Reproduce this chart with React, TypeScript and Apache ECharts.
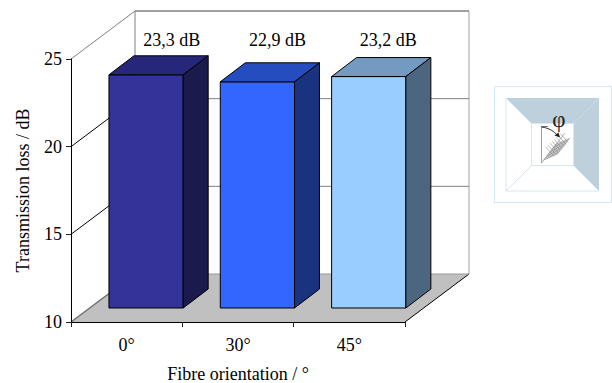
import React, { useEffect, useRef } from "react";
import * as echarts from "echarts";

const categories = ["0°", "30°", "45°"];
const lossValues = [23.3, 22.9, 23.2];
const gridValues = [15, 20, 25];
const frontColors = ["#333399", "#3366ff", "#99ccff"];
const topColors = ["#26267a", "#264dbf", "#739ac0"];
const sideColors = ["#1a1a4d", "#1a3380", "#4d6680"];

const SERIF = '"Liberation Serif", "Times New Roman", serif';

// Oblique projection of the box the bars stand in.
const WALL_DX = 64;
const WALL_DY = 48;
// Position of each bar inside the box, and the depth of the bars themselves.
const BAR_SHIFT_X = 19.4;
const BAR_SHIFT_Y = 14;
const BAR_DX = 25;
const BAR_DY = 19;
const LABEL_SHIFT = [45, 39.5, 39];

const seg = (x1: number, y1: number, x2: number, y2: number, stroke: string, lineWidth = 1) => ({
  type: "line",
  shape: { x1, y1, x2, y2 },
  style: { stroke, lineWidth },
});

const poly = (points: number[][], fill: string, stroke = "none", lineWidth = 1) => ({
  type: "polygon",
  shape: { points },
  style: { fill, stroke, lineWidth },
});

// Floor, back wall and the grid lines running round the two walls.
function renderFrame(params: any, api: any) {
  const { x, y, width, height } = params.coordSys;
  const bottom = y + height;
  const right = x + width;
  const children: any[] = [
    poly(
      [
        [x, bottom],
        [right, bottom],
        [right + WALL_DX, bottom - WALL_DY],
        [x + WALL_DX, bottom - WALL_DY],
      ],
      "#c0c0c0",
    ),
    seg(x + WALL_DX, y - WALL_DY, x + WALL_DX, bottom - WALL_DY, "#808080"),
    seg(right + WALL_DX, y - WALL_DY, right + WALL_DX, bottom - WALL_DY, "#c0c0c0", 1.5),
    seg(x, bottom, x + WALL_DX, bottom - WALL_DY, "#666666", 1.2),
    seg(right, bottom, right + WALL_DX, bottom - WALL_DY, "#000000"),
    seg(x + WALL_DX, bottom - WALL_DY, right + WALL_DX, bottom - WALL_DY, "#999999"),
  ];
  gridValues.forEach((v) => {
    const gy = api.coord([0, v])[1];
    const isTop = v === gridValues[gridValues.length - 1];
    children.push(seg(x, gy, x + WALL_DX, gy - WALL_DY, isTop ? "#808080" : "#000000"));
    children.push(seg(x + WALL_DX, gy - WALL_DY, right + WALL_DX, gy - WALL_DY, "#808080", isTop ? 1.5 : 1));
  });
  return { type: "group", children };
}

// One block per category: front, top and side faces plus the value caption.
function renderBar(params: any, api: any) {
  const i = params.dataIndex;
  const value = api.value(1);
  const [cx, topY] = api.coord([i, value]);
  const baseY = api.coord([i, 10])[1];
  const w = (api.size([1, 0])[0] * 2) / 3;
  const l = cx + BAR_SHIFT_X - w / 2;
  const r = l + w;
  const t = topY - BAR_SHIFT_Y;
  const b = baseY - BAR_SHIFT_Y;
  const edge = "#000000";
  return {
    type: "group",
    children: [
      poly([[l, t], [r, t], [r, b], [l, b]], frontColors[i], edge),
      poly([[l, t], [l + BAR_DX, t - BAR_DY], [r + BAR_DX, t - BAR_DY], [r, t]], topColors[i], edge),
      poly([[r, t], [r + BAR_DX, t - BAR_DY], [r + BAR_DX, b - BAR_DY], [r, b]], sideColors[i], edge),
      {
        type: "text",
        x: cx + LABEL_SHIFT[i],
        y: params.coordSys.y - 19,
        style: {
          text: `${String(value).replace(".", ",")} dB`,
          fontFamily: SERIF,
          fontSize: 18,
          fill: "#000000",
          align: "center",
          verticalAlign: "middle",
        },
      },
    ],
  };
}

// Small sketch of the chamber with the fibre mat seen from the front.
function insetElements() {
  const line = "#d3e8f4";
  const shade = "#bdd0dc";
  const hatch: any[] = [];
  // Strands along the mat's long side, then the ones crossing them.
  for (let k = 0; k < 8; k++) {
    const ox = 543.5 + k * 1.9;
    const oy = 160.5 + k * 0.1 - k * 0.9;
    hatch.push(seg(ox, oy, ox + 13, oy - 17, "#777777", 0.7));
  }
  for (let k = 0; k < 8; k++) {
    const ox = 546 + k * 2.1;
    const oy = 147 - k * 1.9;
    hatch.push(seg(ox, oy, ox + 7.5, oy + 9, "#8c8c8c", 0.6));
  }
  return [
    { type: "rect", shape: { x: 494.5, y: 86.5, width: 117, height: 116 }, style: { fill: "#ffffff", stroke: line, lineWidth: 1 } },
    poly([[506, 98], [599, 98], [573.5, 123.5], [531.5, 123.5]], shade),
    poly([[599, 98], [599, 191], [573.5, 165.5], [573.5, 123.5]], shade),
    seg(506, 98, 506, 191, line),
    seg(506, 191, 599, 191, line),
    seg(506, 98, 531.5, 123.5, line),
    seg(506, 191, 531.5, 165.5, line),
    seg(573.5, 165.5, 599, 191, line),
    { type: "rect", shape: { x: 531.5, y: 123.5, width: 42, height: 42 }, style: { fill: "#ffffff", stroke: line, lineWidth: 1 } },
    ...hatch,
    seg(541.5, 126, 541.5, 163, "#8a8a8a", 0.8),
    seg(541.5, 163, 565, 133, "#a0a0a0", 0.8),
    seg(541.5, 126.5, 548, 126.5, "#555555", 0.8),
    {
      type: "bezierCurve",
      shape: { x1: 541.5, y1: 127, cpx1: 549, cpy1: 128, cpx2: 554, cpy2: 131, x2: 558, y2: 136 },
      style: { stroke: "#333333", lineWidth: 1, fill: "none" },
    },
    poly([[560, 137.5], [554.5, 135.5], [558.5, 132.5]], "#222222"),
    {
      type: "text",
      x: 559,
      y: 119,
      style: { text: "φ", fontFamily: SERIF, fontSize: 23, fill: "#222222", align: "center", verticalAlign: "middle" },
    },
  ];
}

export default function App() {
  const ref = useRef<HTMLDivElement>(null);

  useEffect(() => {
    const chart = echarts.init(ref.current!, undefined, { renderer: "svg" });
    chart.setOption({
      animation: false,
      backgroundColor: "#ffffff",
      textStyle: { fontFamily: SERIF },
      grid: { left: 71, top: 59, width: 334, height: 263, outerBoundsMode: "none" },
      xAxis: {
        type: "category",
        data: categories,
        name: "Fibre orientation / °",
        nameLocation: "middle",
        nameGap: 43,
        nameTextStyle: { fontFamily: SERIF, fontSize: 18, color: "#000000" },
        axisLine: { lineStyle: { color: "#000000", width: 1 } },
        axisTick: { show: true, length: 5, alignWithLabel: false, lineStyle: { color: "#222222" } },
        axisLabel: { fontFamily: SERIF, fontSize: 18, color: "#000000", margin: 14 },
        splitLine: { show: false },
        z: 5,
      },
      yAxis: {
        type: "value",
        min: 10,
        max: 25,
        interval: 5,
        name: "Transmission loss / dB",
        nameLocation: "middle",
        nameGap: 39,
        nameRotate: 90,
        nameTextStyle: { fontFamily: SERIF, fontSize: 18, color: "#000000" },
        axisLine: { show: true, lineStyle: { color: "#000000", width: 1 } },
        axisTick: { show: true, length: 5, lineStyle: { color: "#222222" } },
        axisLabel: { fontFamily: SERIF, fontSize: 18, color: "#000000", margin: 9 },
        splitLine: { show: false },
        z: 5,
      },
      series: [
        {
          type: "custom",
          name: "Frame",
          clip: false,
          silent: true,
          z: 1,
          renderItem: renderFrame,
          data: [[0, 10]],
        },
        {
          type: "custom",
          name: "Transmission loss",
          clip: false,
          z: 2,
          renderItem: renderBar,
          data: lossValues.map((v, i) => [i, v]),
          encode: { x: 0, y: 1 },
        },
      ],
      graphic: { elements: insetElements() },
    });
    return () => chart.dispose();
  }, []);

  return <div ref={ref} style={{ position: "fixed", left: 0, top: 0, width: 612, height: 383 }} />;
}
